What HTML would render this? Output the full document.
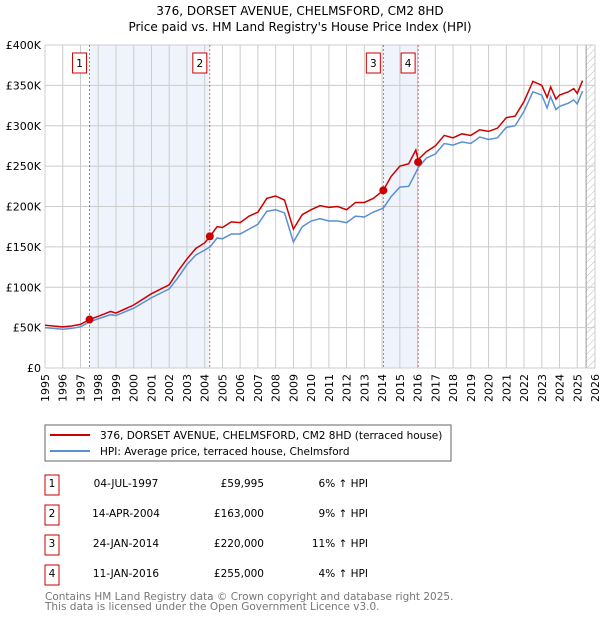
<!DOCTYPE html>
<html><head><meta charset="utf-8"><style>
body{margin:0;background:#fff;font-family:"DejaVu Sans","Liberation Sans",sans-serif;}
svg text{font-family:"DejaVu Sans","Liberation Sans",sans-serif;}
</style></head><body>
<svg id="c" width="600" height="620" xmlns="http://www.w3.org/2000/svg">
<defs><pattern id="hatch" width="5" height="5" patternUnits="userSpaceOnUse" patternTransform="rotate(45)"><line x1="0" y1="0" x2="0" y2="5" stroke="#bbb" stroke-width="1"/></pattern></defs>
<text x="300" y="15" text-anchor="middle" font-size="12">376, DORSET AVENUE, CHELMSFORD, CM2 8HD</text>
<text x="300" y="31" text-anchor="middle" font-size="12">Price paid vs. HM Land Registry's House Price Index (HPI)</text>
<g id="plot"></g>
<rect x="45" y="425" width="406" height="36" fill="#fff" stroke="#666"/>
<line x1="50" y1="435" x2="90" y2="435" stroke="#cc0000" stroke-width="2"/>
<text x="100" y="439" font-size="10.5">376, DORSET AVENUE, CHELMSFORD, CM2 8HD (terraced house)</text>
<line x1="50" y1="451" x2="90" y2="451" stroke="#5b8fd4" stroke-width="2"/>
<text x="100" y="455" font-size="10.5">HPI: Average price, terraced house, Chelmsford</text>
<g id="tbl" font-size="10.5"></g>
<text x="45" y="600" font-size="10.5" fill="#777">Contains HM Land Registry data © Crown copyright and database right 2025.</text>
<text x="45" y="610" font-size="10.5" fill="#777">This data is licensed under the Open Government Licence v3.0.</text>
</svg>
<script>
const redT=[1995,1996,1996.5,1997,1997.5,1998,1998.7,1999,2000,2001,2002,2002.5,2003,2003.5,2004,2004.3,2004.7,2005,2005.5,2006,2006.5,2007,2007.5,2008,2008.5,2009,2009.5,2010,2010.5,2011,2011.5,2012,2012.5,2013,2013.5,2014.07,2014.5,2015,2015.5,2015.9,2016.03,2016.5,2017,2017.5,2018,2018.5,2019,2019.5,2020,2020.5,2021,2021.5,2022,2022.5,2023,2023.3,2023.5,2023.8,2024,2024.5,2024.8,2025,2025.3];
const redV=[53,51,52,54,60,64,70,68,78,92,103,120,135,148,155,163,175,174,181,180,188,193,210,213,208,172,190,196,201,199,200,196,205,205,210,220,237,250,253,270,258,268,275,288,285,290,288,295,293,297,310,312,330,355,350,335,348,333,338,342,346,340,356];
const blueV=[50,48,49,51,57,61,66,65,74,87,98,112,128,140,146,150,161,160,166,166,172,178,194,196,192,156,175,182,185,182,182,180,188,187,193,198,212,224,225,242,248,260,265,278,276,280,278,286,283,285,298,300,318,342,338,322,336,320,324,328,332,327,343];
const yTicks=[0,50,100,150,200,250,300,350,400];
const years=[];for(let y=1995;y<=2026;y++)years.push(y);
const saleT=[1997.51,2004.29,2014.07,2016.03];
const saleV=[59.995,163,220,255];
const saleLbl=['1','2','3','4'];
const saleDate=['04-JUL-1997','14-APR-2004','24-JAN-2014','11-JAN-2016'];
const salePrice=['£59,995','£163,000','£220,000','£255,000'];
const saleHpi=['6% ↑ HPI','9% ↑ HPI','11% ↑ HPI','4% ↑ HPI'];
const X0=45,X1=595,Y0=368,Y1=45;
const xs=t=>X0+(t-1995)/(2026-1995)*(X1-X0);
const ys=v=>Y0-v/400*(Y0-Y1);
const NS='http://www.w3.org/2000/svg';
const g=document.getElementById('plot');
function mk(tag,at,par){const e=document.createElementNS(NS,tag);for(const k in at)e.setAttribute(k,at[k]);(par||g).appendChild(e);return e;}
let e;
e=mk('rect',{x:xs(saleT[0]),y:Y1,width:xs(saleT[1])-xs(saleT[0]),height:Y0-Y1,fill:'#eef3fc'});


e=mk('rect',{x:xs(saleT[2]),y:Y1,width:xs(saleT[3])-xs(saleT[2]),height:Y0-Y1,fill:'#eef3fc'});


e=mk('rect',{x:xs(2025.5),y:Y1,width:X1-xs(2025.5),height:Y0-Y1,fill:'url(#hatch)'});


mk('line',{x1:xs(2025.5),y1:Y1,x2:xs(2025.5),y2:Y0,stroke:'#999','stroke-width':1});
years.forEach(y=>{
 e=mk('line',{x1:xs(y),y1:Y1,x2:xs(y),y2:Y0,stroke:'#ccc','stroke-width':1});
 
 
 e=mk('text',{x:0,y:0,'font-size':11,'text-anchor':'end',transform:`translate(${xs(y)+4},${Y0+6}) rotate(-90)`});
 e.textContent=y;
 
 
});
yTicks.forEach(v=>{
 e=mk('line',{x1:X0,y1:ys(v),x2:X1,y2:ys(v),stroke:'#ccc','stroke-width':1});
 
 
 e=mk('text',{x:X0-4,y:ys(v)+4,'font-size':11,'text-anchor':'end'});
 e.textContent=v===0?'£0':'£'+v+'K';
 
 
});
saleT.forEach((t,i)=>{
 e=mk('line',{x1:xs(t),y1:Y1,x2:xs(t),y2:Y0,stroke:'#e04040','stroke-width':0.8,'stroke-dasharray':'2,2'});
 
 
 e=mk('rect',{x:xs(t)-17,y:53,width:14,height:20,fill:'#fff',stroke:'#cc0000'});
 
 
 e=mk('text',{x:xs(t)-10,y:67,'font-size':10.5,'text-anchor':'middle'});
 e.textContent=saleLbl[i];
 
 
});
e=mk('polyline',{points:redT.map((t,i)=>xs(t)+','+ys(blueV[i])).join(' '),fill:'none',stroke:'#5b8fd4','stroke-width':1.5});


e=mk('polyline',{points:redT.map((t,i)=>xs(t)+','+ys(redV[i])).join(' '),fill:'none',stroke:'#cc0000','stroke-width':1.5});


saleT.forEach((t,i)=>{
 e=mk('circle',{cx:xs(t),cy:ys(saleV[i]),r:4,fill:'#cc0000'});
 
 
});
const tb=document.getElementById('tbl');
saleT.forEach((t,i)=>{
 const y=485+i*30;
 e=mk('rect',{x:45,y:y-10,width:14,height:20,fill:'#fff',stroke:'#cc0000'},tb);
 
 
 e=mk('text',{x:52,y:y+2,'text-anchor':'middle'},tb);e.textContent=saleLbl[i];
 
 
 e=mk('text',{x:126,y:y+2,'text-anchor':'middle'},tb);e.textContent=saleDate[i];
 
 
 e=mk('text',{x:264,y:y+2,'text-anchor':'end'},tb);e.textContent=salePrice[i];
 
 
 e=mk('text',{x:368,y:y+2,'text-anchor':'end'},tb);e.textContent=saleHpi[i];
 
 
});
</script>
</body></html>
